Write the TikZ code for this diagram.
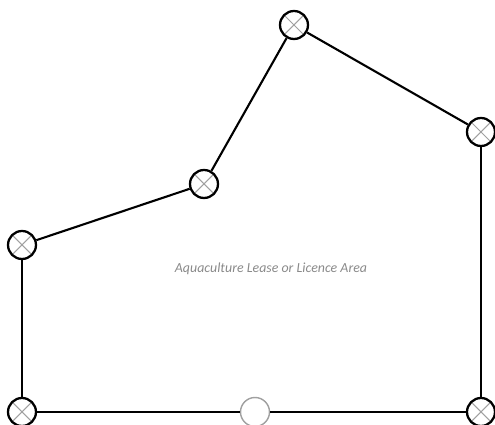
\documentclass[tikz,border=0pt]{standalone}
\usepackage{fontspec}
\newfontfamily\leasefont{Carlito}
\usepackage{tikz}
\usetikzlibrary{positioning}
\definecolor{crossGray}{HTML}{A0A0A0}
\definecolor{labelGray}{HTML}{8A8A8A}
\tikzset{
  corner/.style={draw, circle, line width=1.3pt, fill=white, minimum size=0.56cm, inner sep=0pt,
    path picture={\draw[crossGray, line width=0.6pt]
      (path picture bounding box.north west) -- (path picture bounding box.south east)
      (path picture bounding box.north east) -- (path picture bounding box.south west);}},
  openMark/.style={draw=crossGray, circle, line width=0.8pt, fill=white, minimum size=0.58cm, inner sep=0pt},
  edge/.style={line width=1.2pt},
  areaLabel/.style={text=labelGray, font=\leasefont\itshape\fontsize{7.9}{9}\selectfont}
}
\begin{document}
\begin{tikzpicture}[x=0.02cm, y=-0.02cm]
  \useasboundingbox (0,0) rectangle (495,425);
  \node[corner] (top) at (294,25) {};
  \node[corner] (east) at (481,132) {};
  \node[corner] (se) at (481,412) {};
  \node[openMark] (mid) at (255,412) {};
  \node[corner] (sw) at (22,412) {};
  \node[corner] (west) at (22,245) {};
  \node[corner] (bend) at (204,184) {};
  \node[areaLabel] (area) at (271,269) {Aquaculture Lease or Licence Area};

  \draw[edge] (top) -- (east);
  \draw[edge] (east) -- (se);
  \draw[edge] (se) -- (mid);
  \draw[edge] (mid) -- (sw);
  \draw[edge] (sw) -- (west);
  \draw[edge] (west) -- (bend);
  \draw[edge] (bend) -- (top);
\end{tikzpicture}
\end{document}
